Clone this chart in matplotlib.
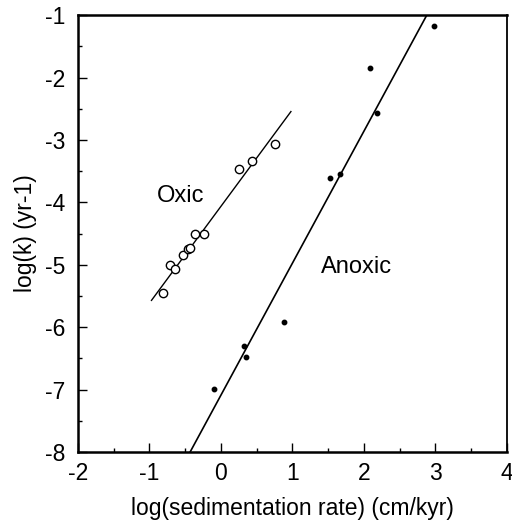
import matplotlib
matplotlib.use("Agg")
import matplotlib.pyplot as plt
import numpy as np
from matplotlib.ticker import MultipleLocator

plt.rcParams['font.family'] = ['Liberation Sans', 'DejaVu Sans']
plt.rcParams['axes.unicode_minus'] = False

# Oxic data (open circles)
oxic_x = [-0.81, -0.71, -0.64, -0.53, -0.46, -0.43, -0.36, -0.24, 0.25, 0.44, 0.76]
oxic_y = [-5.45, -5.00, -5.06, -4.85, -4.75, -4.73, -4.51, -4.50, -3.46, -3.33, -3.06]
# Anoxic data (filled dots)
anoxic_x = [-0.10, 0.32, 0.35, 0.88, 1.52, 1.66, 2.08, 2.19, 2.98]
anoxic_y = [-6.99, -6.30, -6.47, -5.92, -3.61, -3.55, -1.85, -2.57, -1.18]

# Fitted lines (endpoints)
oxic_line_x = [-0.97, 0.98]
oxic_line_y = [-5.57, -2.545]
anoxic_line_x = [-0.43, 2.88]
anoxic_line_y = [-8.0, -1.0]

fig = plt.figure(figsize=(5.12, 5.22), dpi=100)
ax = fig.add_axes([0.152, 0.134, 0.838, 0.837])

ax.plot(oxic_line_x, oxic_line_y, color='black', lw=1.0)
ax.plot(anoxic_line_x, anoxic_line_y, color='black', lw=1.2)
ax.plot(oxic_x, oxic_y, 'o', mfc='white', mec='black', ms=6, mew=1.0, ls='none')
ax.plot(anoxic_x, anoxic_y, 'o', color='black', ms=3.2, ls='none')

ax.text(-0.9, -3.89, 'Oxic', fontsize=17, va='center', ha='left')
ax.text(1.40, -5.04, 'Anoxic', fontsize=17, va='center', ha='left')

ax.set_xlim(-2, 4)
ax.set_ylim(-8, -1)
ax.xaxis.set_major_locator(MultipleLocator(1))
ax.xaxis.set_minor_locator(MultipleLocator(0.5))
ax.yaxis.set_major_locator(MultipleLocator(1))
ax.yaxis.set_minor_locator(MultipleLocator(0.5))
ax.tick_params(which='both', direction='in', top=False, right=False, labelsize=16.5, width=1.0)
ax.tick_params(which='major', length=6.5)
ax.tick_params(which='minor', length=3)
ax.tick_params(axis='x', which='major', pad=7)
ax.tick_params(axis='y', which='major', pad=9)

for s in ['left', 'bottom', 'top']:
    ax.spines[s].set_linewidth(1.8)
ax.spines['right'].set_linewidth(1.3)

ax.set_xlabel('log(sedimentation rate) (cm/kyr)', fontsize=16.5, labelpad=8.5)
ax.set_ylabel('log(k) (yr-1)', fontsize=16.5, labelpad=6)

fig.savefig('out.png', dpi=100)
